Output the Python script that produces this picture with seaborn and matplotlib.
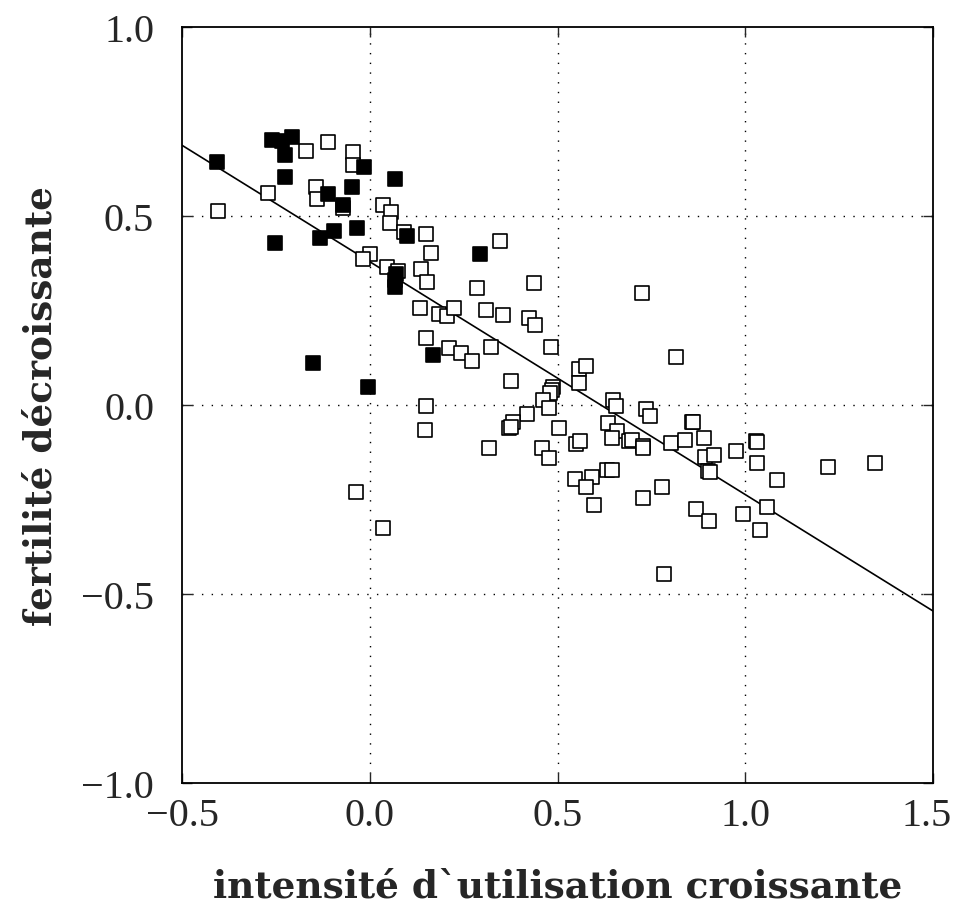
import matplotlib
matplotlib.use("Agg")
import matplotlib.pyplot as plt
import matplotlib.transforms as mtransforms
import seaborn as sns
import pandas as pd
import numpy as np

# --- data ---
filled_x = [-0.408, -0.261, -0.235, -0.208, -0.226, -0.226, -0.252, -0.132, -0.095, -0.035,
            -0.110, -0.048, -0.070, -0.015, 0.067, 0.098, 0.070, 0.068, 0.067, 0.294,
            0.169, -0.150, -0.004]
filled_y = [0.642, 0.702, 0.698, 0.708, 0.660, 0.602, 0.429, 0.442, 0.460, 0.468,
            0.558, 0.576, 0.529, 0.629, 0.598, 0.448, 0.347, 0.330, 0.311, 0.399,
            0.133, 0.110, 0.047]

open_x = [-0.170, -0.110, -0.044, -0.045, -0.270, -0.403, -0.143, -0.141, -0.070, 0.034,
          0.056, 0.054, 0.091, 0.149, 0.163, 0.136, 0.152, 0.001, -0.017, 0.045,
          0.076, 0.285, 0.346, 0.134, 0.183, 0.205, 0.223, 0.310, 0.150, 0.211,
          0.242, 0.272, 0.322, 0.437, 0.356, 0.424, 0.440, 0.482, 0.375, 0.558,
          0.576, 0.558, 0.487, 0.485, 0.480, 0.460, 0.478, 0.418, 0.149, 0.382,
          0.372, 0.376, 0.146, 0.504, 0.318, 0.458, 0.476, 0.549, 0.560, 0.649,
          0.656, 0.735, 0.746, 0.634, 0.659, 0.644, 0.691, 0.698, 0.728, 0.728,
          0.857, 0.860, 0.802, 0.840, 0.724, 0.816, 0.890, 0.893, 0.917, 0.902,
          0.906, 0.975, 1.029, 1.032, 1.030, 1.084, 1.221, 1.346, 0.633, 0.646,
          0.777, 0.728, 0.869, 0.903, 0.995, 1.059, 1.038, 0.784, 0.547, 0.591,
          0.576, 0.596, -0.037, 0.036]
open_y = [0.673, 0.697, 0.670, 0.635, 0.561, 0.514, 0.576, 0.545, 0.520, 0.530,
          0.510, 0.481, 0.457, 0.452, 0.401, 0.360, 0.325, 0.399, 0.386, 0.364,
          0.355, 0.309, 0.435, 0.256, 0.241, 0.236, 0.256, 0.252, 0.177, 0.152,
          0.137, 0.116, 0.154, 0.323, 0.238, 0.230, 0.212, 0.154, 0.063, 0.095,
          0.104, 0.057, 0.047, 0.040, 0.031, 0.012, -0.008, -0.024, -0.002, -0.044,
          -0.062, -0.058, -0.065, -0.062, -0.115, -0.115, -0.141, -0.103, -0.094, 0.012,
          -0.003, -0.011, -0.028, -0.048, -0.068, -0.088, -0.094, -0.092, -0.108, -0.115,
          -0.044, -0.046, -0.101, -0.092, 0.296, 0.126, -0.087, -0.137, -0.131, -0.174,
          -0.178, -0.121, -0.094, -0.097, -0.154, -0.198, -0.163, -0.154, -0.171, -0.171,
          -0.218, -0.247, -0.275, -0.308, -0.288, -0.271, -0.330, -0.447, -0.196, -0.191,
          -0.216, -0.265, -0.231, -0.326]

line_x = [-0.5, 1.5]
line_y = [0.687, -0.545]

x_ticks = [-0.5, 0.0, 0.5, 1.0, 1.5]
y_ticks = [-1.0, -0.5, 0.0, 0.5, 1.0]
x_label = "intensité d`utilisation croissante"
y_label = "fertilité décroissante"

sns.set_style("white")
plt.rcParams["font.family"] = ["Liberation Serif", "DejaVu Serif"]
plt.rcParams["axes.unicode_minus"] = True

fig = plt.figure(figsize=(9.56, 9.2), dpi=100)
ax = fig.add_axes([0.1904, 0.1478, 0.7856, 0.8218])

df_open = pd.DataFrame({"x": open_x, "y": open_y})
df_filled = pd.DataFrame({"x": filled_x, "y": filled_y})

# grid
for v in [0.0, 0.5, 1.0]:
    ax.axvline(v, color="black", linestyle=(0, (1, 6)), linewidth=1.0, zorder=0)
for v in [-0.5, 0.0, 0.5]:
    ax.axhline(v, color="black", linestyle=(0, (1, 6)), linewidth=1.0, zorder=0)

sns.lineplot(x=line_x, y=line_y, ax=ax, color="black", linewidth=1.2, zorder=2)
sns.scatterplot(data=df_open, x="x", y="y", ax=ax, marker="s", s=100,
                facecolor="white", edgecolor="black", linewidth=1.2, zorder=3)
sns.scatterplot(data=df_filled, x="x", y="y", ax=ax, marker="s", s=100,
                color="black", edgecolor="black", linewidth=1.2, zorder=4)

ax.set_xlim(-0.5, 1.5)
ax.set_ylim(-1.0, 1.0)
ax.set_xticks(x_ticks)
ax.set_yticks(y_ticks)
ax.set_xticklabels([f"{t:.1f}".replace("-", "\u2212") for t in x_ticks])
ax.set_yticklabels([f"{t:.1f}".replace("-", "\u2212") for t in y_ticks])
ax.tick_params(direction="in", length=7, width=1.0, labelsize=29,
               top=True, right=True, bottom=True, left=True)
ax.tick_params(axis="x", pad=10)
ax.tick_params(axis="y", pad=20)
for sp in ax.spines.values():
    sp.set_color("black")
    sp.set_linewidth(1.3)

# nudge the last x tick label slightly left so it stays inside the figure
last_lbl = ax.get_xticklabels()[-1]
last_lbl.set_transform(last_lbl.get_transform() +
                       mtransforms.ScaledTranslation(-6 / 100, 0, fig.dpi_scale_trans))

ax.set_xlabel(x_label, fontsize=27, fontweight="bold", labelpad=24,
              family=["DejaVu Serif"])
ax.set_ylabel(y_label, fontsize=27, fontweight="bold", labelpad=16,
              family=["DejaVu Serif"])

fig.savefig("out.png", dpi=100, facecolor="white")
